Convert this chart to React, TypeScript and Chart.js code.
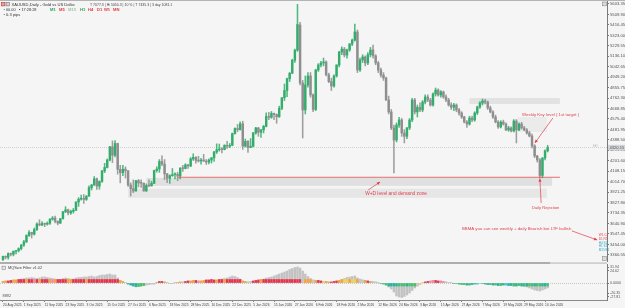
import React, { useEffect, useRef } from "react";
import { Chart, registerables } from "chart.js";
Chart.register(...registerables);

const FONT = '"Liberation Sans", Arial, sans-serif';
const BG = "#f5f5f5";
const UP = "#34ad6c";
const DOWN = "#8e8e8e";
const RED = "#e23c4b";

// [open, high, low, close] — XAUUSD daily
const candles: number[][] = [
  [3316,3350,3311,3347],[3347,3351,3324,3339],[3339,3379,3321,3372],[3372,3376,3351,3365],[3365,3393,3351,3393],
  [3393,3398,3368,3397],[3397,3423,3386,3416],[3416,3453,3404,3448],[3448,3490,3436,3476],[3476,3540,3470,3533],
  [3533,3578,3525,3560],[3560,3563,3511,3545],[3545,3600,3537,3586],[3586,3646,3578,3636],[3636,3674,3620,3627],
  [3627,3658,3622,3641],[3641,3645,3612,3634],[3634,3655,3626,3643],[3643,3685,3632,3679],[3679,3703,3670,3689],
  [3689,3707,3645,3660],[3660,3665,3628,3644],[3644,3686,3640,3684],[3684,3749,3680,3745],[3745,3791,3738,3763],
  [3763,3770,3718,3735],[3735,3760,3722,3749],[3749,3775,3733,3759],[3759,3835,3755,3833],[3833,3872,3793,3858],
  [3858,3895,3850,3866],[3866,3898,3820,3856],[3856,3890,3847,3886],[3886,3977,3882,3961],[3961,3990,3940,3985],
  [3985,4059,3980,4040],[4040,4046,3945,3975],[3975,4022,3947,4017],[4017,4117,4007,4110],[4110,4179,4095,4142],
  [4142,4218,4137,4208],[4208,4330,4199,4326],[4326,4379,4185,4251],[4251,4381,4236,4356],[4356,4359,4082,4125],
  [4125,4161,4004,4095],[4095,4161,4068,4126],[4126,4147,4047,4112],[4112,4114,3971,3985],[3985,4004,3886,3952],
  [3952,4030,3916,3931],[3931,4026,3930,4024],[4024,4034,3968,4002],[4002,4030,3962,4001],[4001,4003,3930,3931],
  [3931,3995,3928,3980],[3980,4030,3969,3977],[3977,4018,3975,4000],[4000,4118,3997,4115],[4115,4148,4100,4128],
  [4128,4212,4098,4195],[4195,4245,4158,4172],[4172,4212,4033,4084],[4084,4089,4006,4045],[4045,4076,3998,4068],
  [4068,4132,4062,4078],[4078,4093,4039,4079],[4079,4099,4023,4065],[4065,4140,4040,4135],[4135,4160,4106,4132],
  [4132,4175,4129,4165],[4165,4169,4134,4155],[4155,4230,4148,4218],[4218,4264,4205,4232],[4232,4240,4180,4205],
  [4205,4242,4190,4200],[4200,4223,4171,4208],[4208,4259,4195,4198],[4198,4213,4168,4190],[4190,4218,4173,4208],
  [4208,4230,4181,4228],[4228,4285,4195,4280],[4280,4353,4266,4300],[4300,4351,4287,4305],[4305,4320,4271,4302],
  [4302,4345,4299,4340],[4340,4375,4311,4332],[4332,4356,4318,4340],[4340,4449,4336,4445],[4445,4497,4440,4490],
  [4490,4526,4461,4480],[4480,4550,4476,4532],[4532,4555,4303,4332],[4332,4396,4325,4375],[4375,4382,4275,4320],
  [4320,4400,4318,4331],[4331,4455,4325,4450],[4450,4500,4440,4495],[4495,4500,4420,4456],[4456,4480,4410,4478],
  [4478,4518,4450,4510],[4510,4630,4505,4598],[4598,4634,4568,4590],[4590,4642,4581,4625],[4625,4628,4570,4615],
  [4615,4620,4537,4595],[4595,4690,4590,4670],[4670,4767,4658,4765],[4765,4888,4740,4830],[4830,4940,4775,4935],
  [4935,4990,4910,4985],[4985,5110,4980,5100],[5100,5200,5080,5190],[5190,5600,5180,5420],[5415,5440,4880,4897],
  [4897,4920,4405,4656],[4656,4960,4620,4880],[4880,4990,4860,4960],[4960,4990,4770,4790],[4790,4800,4640,4660],
  [4660,5020,4650,5013],[5013,5070,5000,5058],[5058,5090,5040,5076],[5076,5120,5050,5085],[5085,5095,4960,4970],
  [4970,4985,4900,4910],[4910,4940,4830,4870],[4870,4970,4860,4960],[4960,5060,4950,5058],[5058,5180,5040,5174],
  [5174,5220,5150,5200],[5200,5215,5130,5147],[5147,5200,5120,5192],[5192,5250,5180,5246],[5246,5290,5230,5281],
  [5281,5424,5270,5353],[5353,5371,4990,5013],[5013,5120,5000,5103],[5103,5150,5080,5130],[5130,5140,5050,5076],
  [5076,5170,5060,5150],[5150,5215,5130,5192],[5192,5237,5120,5140],[5140,5150,5060,5076],[5076,5090,4990,5013],
  [5013,5030,4950,4968],[4968,4990,4920,4942],[4942,4950,4740,4745],[4745,4780,4620,4638],[4638,4660,4480,4495],
  [4495,4520,4092,4387],[4387,4540,4370,4521],[4521,4590,4500,4566],[4566,4580,4420,4450],[4450,4480,4361,4420],
  [4420,4500,4400,4495],[4495,4580,4480,4566],[4566,4760,4550,4745],[4745,4760,4620,4638],[4638,4700,4593,4680],
  [4680,4720,4640,4656],[4656,4740,4640,4727],[4727,4790,4710,4772],[4772,4790,4730,4745],[4745,4760,4690,4700],
  [4700,4810,4690,4799],[4799,4852,4780,4834],[4834,4845,4780,4790],[4790,4830,4770,4817],[4817,4825,4760,4772],
  [4772,4790,4730,4745],[4745,4760,4690,4700],[4700,4720,4660,4680],[4680,4715,4650,4700],[4700,4710,4640,4656],
  [4656,4670,4610,4629],[4629,4640,4580,4593],[4593,4600,4540,4548],[4548,4560,4500,4530],[4530,4600,4520,4584],
  [4584,4600,4550,4566],[4566,4640,4555,4629],[4629,4690,4615,4682],[4682,4730,4670,4718],[4718,4754,4700,4736],
  [4736,4750,4710,4727],[4727,4735,4660,4674],[4674,4690,4630,4638],[4638,4650,4580,4593],[4593,4610,4540,4548],
  [4548,4560,4490,4504],[4504,4560,4495,4548],[4548,4565,4520,4530],[4530,4540,4470,4477],[4477,4510,4465,4495],
  [4495,4505,4460,4468],[4468,4570,4460,4557],[4557,4570,4361,4477],[4477,4540,4470,4530],[4530,4545,4485,4495],
  [4495,4510,4470,4477],[4477,4490,4440,4450],[4450,4465,4415,4423],[4423,4440,4316,4334],[4334,4345,4230,4244],
  [4244,4250,4190,4209],[4209,4220,4048,4070],[4070,4230,4050,4226],[4226,4300,4210,4290],[4290,4340,4280,4320],
];

const priceTicks = [
  5603.35, 5509.9, 5416.45, 5323.0, 5229.55, 5136.1, 5042.65, 4949.2, 4855.75, 4762.3, 4668.85, 4575.4, 4481.95,
  4388.5, 4295.05, 4201.6, 4108.15, 4014.7, 3921.25, 3827.8, 3734.35, 3640.9, 3547.45, 3454.0, 3360.55,
];
const bidPrice = 4320.15;

const dateTickIndex = [0,8,16,24,32,40,48,56,64,72,80,88,96,104,112,120,128,136,144,152,160,168,176,184,192,200,208];
const dateTickLabels = [
  "20 Aug 2025","1 Sep 2025","11 Sep 2025","23 Sep 2025","3 Oct 2025","15 Oct 2025","27 Oct 2025","6 Nov 2025",
  "18 Nov 2025","28 Nov 2025","10 Dec 2025","22 Dec 2025","5 Jan 2026","15 Jan 2026","27 Jan 2026","6 Feb 2026",
  "18 Feb 2026","2 Mar 2026","12 Mar 2026","24 Mar 2026","3 Apr 2026","15 Apr 2026","27 Apr 2026","7 May 2026",
  "19 May 2026","29 May 2026","10 Jun 2026",
];

// indicator histogram (gray) and signal bars (coloured)
const histValues = [
  3,4,4,5,6,6,7,8,9,10, 10,11,10,9,10,12,12,11,10,9, 8,7,7,9,10,9,8,8,10,11, 11,12,12,13,14,12,13,15,16,16,
  17,18,16,16,10,5,3,1,-2,-4, -6,-8,-7,-6,-5,-4,-3,-2,-2,1, 3,3,2,1,-1,-1,1,1,2,2, 3,4,4,5,5,4,4,5,6,6,
  7,6,6,7,8,9,10,12,14,13, 11,8,4,3,2,3,4,5,6,7, 8,10,11,12,14,16,18,20,22,24, 27,29,31,32,30,24,18,13,9,6,
  5,5,4,3,3,2,2,3,4,5, 7,9,11,12,13,14,10,8,6,5, 4,3,3,2,1,-1,-2,-4,-8,-12, -18,-26,-28,-29,-27,-24,-20,-15,-10,-6,
  -3,1,2,3,4,5,5,4,4,3, 2,1,1,-1,-1,-2,-3,-3,-4,-4, -3,-2,-2,-1,-1,-2,-3,-3,-4,-4, -5,-5,-4,-4,-5,-5,-6,-6,-5,-6,
  -7,-8,-10,-12,-14,-15,-16,-14,-12,-10,
];
const signalValues = [
  3,4,4,5,6,6,7,7,7,7, 7,7,7,7,7,7,7,7,7,7, 7,7,7,7,7,7,7,7,7,7, 7,7,7,7,7,7,7,7,7,7,
  7,7,7,7,7,5,3,1,-2,-4, -6,-7,-7,-6,-5,-4,-3,-2,-2,1, 3,3,2,1,-1,-1,1,1,2,2, 3,4,4,5,5,4,4,5,6,6,
  7,6,6,7,7,7,7,7,7,7, 7,7,4,3,2,3,4,5,6,7, 7,7,7,7,7,7,7,7,7,7, 7,7,7,7,7,7,7,7,7,6,
  5,5,4,3,3,2,2,3,4,5, 7,7,7,7,7,7,7,7,6,5, 4,3,3,2,1,-1,-2,-4,-6,-6, -6,-6,-6,-6,-6,-6,-6,-6,-6,-6,
  -3,1,2,3,4,5,5,4,4,3, 2,1,1,-1,-1,-2,-3,-3,-4,-4, -3,-2,-2,-1,-1,-2,-3,-3,-4,-4, -5,-5,-4,-4,-5,-5,-6,-6,-5,-6,
  -6,-6,-6,-6,-6,-6,-6,-6,-6,-6,
];
const signalCodes =
  "oorroorrro" + "rrprorrrop" + "orrrroorrr" + "rrorrrrrrr" + "rrrrroostt" + "ttgggsssso" + "rrossssoos" +
  "rroorpoorr" + "rrorrorrrr" + "rroossrrro" + "rrrrrrrrrr" + "rrrrrsooos" + "orryoorrro" + "oyyoyyosso" +
  "rosssgggtt" + "ttgggtgggs" + "yyrrpprrpp" + "sssggtggtg" + "ttcsgttgtg" + "tgtcttgtgt" + "gtggtggttg";
const indTicks = [31.94, 24.62, 0, -20.35, -27.81];

const SIGNAL_COLORS: Record<string, string> = {
  r: "#e8334f", o: "#f5a33b", y: "#eed25a", p: "#f38aa2", g: "#48c06a", t: "#22b79c", c: "#3fc3e5", s: "#c6c6c6",
};

// annotations in (bar index, price) coordinates
const zones = [
  { i0: 55, i1: 210.7, top: 4048, bottom: 3977, fill: "#e0e0e0" },
  { i0: 48, i1: 208.7, top: 3952, bottom: 3870, fill: "#e6e6e6" },
  { i0: 179, i1: 213.7, top: 4763, bottom: 4709, fill: "#e2e2e2" },
  { i0: 197.6, i1: 208.7, top: 4593, bottom: 4459, fill: "#ebebeb" },
];
const redLine = { i0: 67.2, i1: 213.7, price: 4054 };
const notes = [
  { text: "W+D level and demand zone", i: 139, p: 3907, size: 4.8 },
  { text: "Weekly Key level ( 1st target )", i: 199.2, p: 4611, size: 4.3 },
  { text: "Daily Rejection", i: 203, p: 3779, size: 4.1 },
  { text: "BBMA you can see weekly + daily Bearish but LTF bullish", i: 176.1, p: 3592, size: 4.3 },
];
const arrows = [
  { from: [140.1, 3940], to: [144.7, 4012] },
  { from: [211, 4584], to: [204.1, 4361] },
  { from: [206.5, 3824], to: [206, 4042] },
  { from: [218.3, 3574], to: [228, 3493] },
];
const sideTags = [
  { text: "W1 C4", p: 3538, color: "#e0404e" },
  { text: "D1 R5", p: 3505, color: "#e0404e" },
  { text: "H4 S1", p: 3462, color: "#2aa9c9" },
  { text: "H1 S1", p: 3435, color: "#2aa9c9" },
  { text: "M15 B1", p: 3405, color: "#2aa9c9" },
];
const tfLabels = [
  { t: "M1", c: "#22a35a" }, { t: "M5", c: "#e0393e" }, { t: "M15", c: "#9cc4a4" }, { t: "H1", c: "#22a35a" },
  { t: "H4", c: "#e0393e" }, { t: "D1", c: "#e0393e" }, { t: "W1", c: "#e0393e" }, { t: "MN", c: "#e0393e" },
];
const tfX = [50, 59, 68, 80, 88, 97, 104, 113];

const X_MIN = -1.151;
const X_MAX = 231.77;
const Y_MAX = 5639.12;
const Y_MIN = 3296.16;

function text(ctx: any, s: string, x: number, y: number, color: string, size: number, align = "left", bold = false) {
  ctx.save();
  ctx.font = `${bold ? "bold " : ""}${size}px ${FONT}`;
  ctx.fillStyle = color;
  ctx.textAlign = align;
  ctx.textBaseline = "middle";
  ctx.fillText(s, x, y);
  ctx.restore();
}

function arrow(ctx: any, x1: number, y1: number, x2: number, y2: number, color: string) {
  ctx.save();
  ctx.strokeStyle = color;
  ctx.fillStyle = color;
  ctx.lineWidth = 0.7;
  ctx.beginPath();
  ctx.moveTo(x1, y1);
  ctx.lineTo(x2, y2);
  ctx.stroke();
  const a = Math.atan2(y2 - y1, x2 - x1);
  const L = 3.2, W = 1.5;
  ctx.beginPath();
  ctx.moveTo(x2, y2);
  ctx.lineTo(x2 - L * Math.cos(a) + W * Math.sin(a), y2 - L * Math.sin(a) - W * Math.cos(a));
  ctx.lineTo(x2 - L * Math.cos(a) - W * Math.sin(a), y2 - L * Math.sin(a) + W * Math.cos(a));
  ctx.closePath();
  ctx.fill();
  ctx.restore();
}

function iconBox(ctx: any, x: number, y: number, s: number, fill: string, stroke: string) {
  ctx.save();
  ctx.fillStyle = fill;
  ctx.fillRect(x, y, s, s);
  ctx.strokeStyle = stroke;
  ctx.lineWidth = 0.6;
  ctx.strokeRect(x, y, s, s);
  ctx.restore();
}

const mainOverlay = {
  id: "mainOverlay",
  beforeDatasetsDraw(chart: any) {
    const { ctx, scales } = chart;
    const x = scales.x, y = scales.y;
    zones.forEach((z) => {
      const x0 = x.getPixelForValue(z.i0), x1 = x.getPixelForValue(z.i1);
      const y0 = y.getPixelForValue(z.top), y1 = y.getPixelForValue(z.bottom);
      ctx.fillStyle = z.fill;
      ctx.fillRect(x0, y0, x1 - x0, y1 - y0);
    });
    const by = Math.round(y.getPixelForValue(bidPrice)) + 0.5;
    ctx.save();
    ctx.strokeStyle = "#b9b9b9";
    ctx.lineWidth = 0.6;
    ctx.setLineDash([1, 1]);
    ctx.beginPath();
    ctx.moveTo(chart.chartArea.left, by);
    ctx.lineTo(chart.chartArea.right, by);
    ctx.stroke();
    ctx.restore();
    text(ctx, "H0", chart.chartArea.right - 14, by - 2, "#b5b5b5", 3.6);
  },
  afterDatasetsDraw(chart: any) {
    const { ctx, scales } = chart;
    const x = scales.x, y = scales.y;
    const ry = y.getPixelForValue(redLine.price);
    ctx.save();
    ctx.strokeStyle = "#e2474f";
    ctx.lineWidth = 0.8;
    ctx.beginPath();
    ctx.moveTo(x.getPixelForValue(redLine.i0), ry);
    ctx.lineTo(x.getPixelForValue(redLine.i1), ry);
    ctx.stroke();
    ctx.restore();
    notes.forEach((n) => text(ctx, n.text, x.getPixelForValue(n.i), y.getPixelForValue(n.p), RED, n.size));
    arrows.forEach((a) =>
      arrow(ctx, x.getPixelForValue(a.from[0]), y.getPixelForValue(a.from[1]), x.getPixelForValue(a.to[0]), y.getPixelForValue(a.to[1]), RED)
    );
    sideTags.forEach((t) => text(ctx, t.text, x.getPixelForValue(228.6), y.getPixelForValue(t.p), t.color, 3.1));
  },
  afterDraw(chart: any) {
    const { ctx, scales, chartArea } = chart;
    const y = scales.y;
    ctx.fillStyle = "#b4b4b4";
    ctx.fillRect(0, 0, 625, 1);
    // header
    iconBox(ctx, 1.5, 2.5, 3.4, "#e8a0a0", "#c0392b");
    iconBox(ctx, 6, 2.5, 3.4, "#d0d0d0", "#777");
    text(ctx, "XAUUSD,Daily - Gold vs US Dollar", 11.5, 4.6, "#333", 4.1);
    text(ctx, "T 7077.3 | Hi 5050.3 | 10 % | T 7435.3 | 3 day 1081.1", 90, 4.6, "#444", 3.5);
    text(ctx, "\u2022 00.00   \u25AA 17:28:28", 3.5, 9.6, "#333", 3.9);
    tfLabels.forEach((l, k) => text(ctx, l.t, tfX[k], 9.6, l.c, 4.1, "left", true));
    text(ctx, "\u2022 0.3 pips", 3.5, 15, "#333", 4.1);
    iconBox(ctx, 602.5, 2, 3.8, "#dcdcdc", "#8a8a8a");
    iconBox(ctx, 602.5, 256.5, 3.8, "#dcdcdc", "#8a8a8a");
    // bid label on axis
    const by = y.getPixelForValue(bidPrice);
    ctx.fillStyle = "#d3d7db";
    ctx.fillRect(chartArea.right + 1, by - 2.7, 17, 5.4);
    text(ctx, bidPrice.toFixed(2), chartArea.right + 2.5, by, "#555", 4.1);
  },
};

const indOverlay = {
  id: "indOverlay",
  beforeDatasetsDraw(chart: any) {
    const { ctx, scales, chartArea } = chart;
    const zy = Math.round(scales.y.getPixelForValue(0)) + 0.5;
    ctx.save();
    ctx.strokeStyle = "#a9a9a9";
    ctx.lineWidth = 0.6;
    ctx.setLineDash([1, 1]);
    ctx.beginPath();
    ctx.moveTo(chartArea.left, zy);
    ctx.lineTo(chartArea.right, zy);
    ctx.stroke();
    ctx.restore();
  },
  afterDraw(chart: any) {
    const { ctx } = chart;
    ctx.fillStyle = "#cbcbcb";
    ctx.fillRect(0, 0.3, 607, 1.6);
    ctx.fillStyle = "#aeaeae";
    ctx.fillRect(0, 0, 550, 2);
    iconBox(ctx, 2, 4.2, 3.4, "#e6e6e6", "#888");
    text(ctx, "MQSwe Filter v1.02", 8, 6, "#444", 3.9);
    text(ctx, "8892", 2.5, 34, "#555", 3.9);
  },
};

export default function App() {
  const mainRef = useRef<HTMLCanvasElement>(null);
  const indRef = useRef<HTMLCanvasElement>(null);

  useEffect(() => {
    Chart.defaults.font.family = FONT;
    const bodyData = candles.map((c, i) => ({ x: i, y: [c[0], c[3]] }));
    const wickData = candles.map((c, i) => ({ x: i, y: [c[2], c[1]] }));
    const bodyColors = candles.map((c) => (c[3] >= c[0] ? UP : DOWN));
    const wickColors = candles.map((c) => (c[3] >= c[0] ? "rgba(52,173,108,0.85)" : "rgba(142,142,142,0.85)"));

    const main = new Chart(mainRef.current as HTMLCanvasElement, {
      type: "bar",
      data: {
        datasets: [
          { data: bodyData as any, backgroundColor: bodyColors, barThickness: 1.8, minBarLength: 0.8, grouped: false, borderWidth: 0 } as any,
          { data: wickData as any, backgroundColor: wickColors, barThickness: 0.9, grouped: false, borderWidth: 0 } as any,
        ],
      },
      options: {
        responsive: false,
        animation: false,
        events: [],
        layout: { padding: 0 },
        plugins: { legend: { display: false }, tooltip: { enabled: false } },
        scales: {
          x: { type: "linear", min: X_MIN, max: X_MAX, offset: false, display: false, grid: { offset: false } },
          y: {
            position: "right",
            min: Y_MIN,
            max: Y_MAX,
            afterBuildTicks: (s: any) => { s.ticks = priceTicks.map((v) => ({ value: v })); },
            afterFit: (s: any) => { s.width = 18; s.paddingTop = 0; s.paddingBottom = 0; },
            ticks: { autoSkip: false, padding: 1, color: "#555", font: { family: FONT, size: 4.2 }, callback: (v: any) => Number(v).toFixed(2) },
            grid: { drawOnChartArea: false, tickLength: 2, tickColor: "#777" },
            border: { display: true, color: "#7a7a7a", width: 1 },
          },
        },
      } as any,
      plugins: [mainOverlay],
    });

    const ind = new Chart(indRef.current as HTMLCanvasElement, {
      type: "bar",
      data: {
        datasets: [
          {
            data: signalValues.map((v, i) => ({ x: i, y: v })) as any,
            backgroundColor: signalValues.map((_, i) => SIGNAL_COLORS[signalCodes[i]] || "#c6c6c6"),
            barThickness: 1.8, grouped: false, borderWidth: 0,
          } as any,
          {
            data: histValues.map((v, i) => ({ x: i, y: v })) as any,
            backgroundColor: "#c2c2c2",
            barThickness: 1.8, grouped: false, borderWidth: 0,
          } as any,
        ],
      },
      options: {
        responsive: false,
        animation: false,
        events: [],
        layout: { padding: { top: 2, left: 0, right: 0, bottom: 0 } },
        plugins: { legend: { display: false }, tooltip: { enabled: false } },
        scales: {
          x: {
            type: "linear", min: X_MIN, max: X_MAX, offset: false, position: "bottom",
            afterBuildTicks: (s: any) => { s.ticks = dateTickIndex.map((v) => ({ value: v })); },
            afterFit: (s: any) => { s.height = 8; s.paddingLeft = 0; s.paddingRight = 0; },
            ticks: {
              autoSkip: false, maxRotation: 0, minRotation: 0, align: "start", padding: 0.8, color: "#444",
              font: { family: FONT, size: 3.3 }, callback: (_v: any, i: number) => dateTickLabels[i],
            },
            grid: { drawOnChartArea: false, tickLength: 2, tickColor: "#888", offset: false },
            border: { display: true, color: "#8a8a8a" },
          },
          y: {
            position: "right", min: -34, max: 38,
            afterBuildTicks: (s: any) => { s.ticks = indTicks.map((v) => ({ value: v })); },
            afterFit: (s: any) => { s.width = 18; s.paddingTop = 0; s.paddingBottom = 0; },
            ticks: {
              autoSkip: false, padding: 1, color: "#555", font: { family: FONT, size: 3.6 },
              callback: (v: any) => (Number(v) === 0 ? "0.0000" : Number(v).toFixed(2)),
            },
            grid: { drawOnChartArea: false, tickLength: 2, tickColor: "#777" },
            border: { display: true, color: "#7a7a7a" },
          },
        },
      } as any,
      plugins: [indOverlay],
    });

    return () => {
      main.destroy();
      ind.destroy();
    };
  }, []);

  return (
    <div style={{ position: "fixed", left: 0, top: 0, width: 625, height: 308, background: BG, overflow: "hidden" }}>
      <canvas ref={mainRef} width={625} height={262} style={{ position: "absolute", left: 0, top: 0, width: 625, height: 262 }} />
      <canvas ref={indRef} width={625} height={46} style={{ position: "absolute", left: 0, top: 262, width: 625, height: 46 }} />
    </div>
  );
}
